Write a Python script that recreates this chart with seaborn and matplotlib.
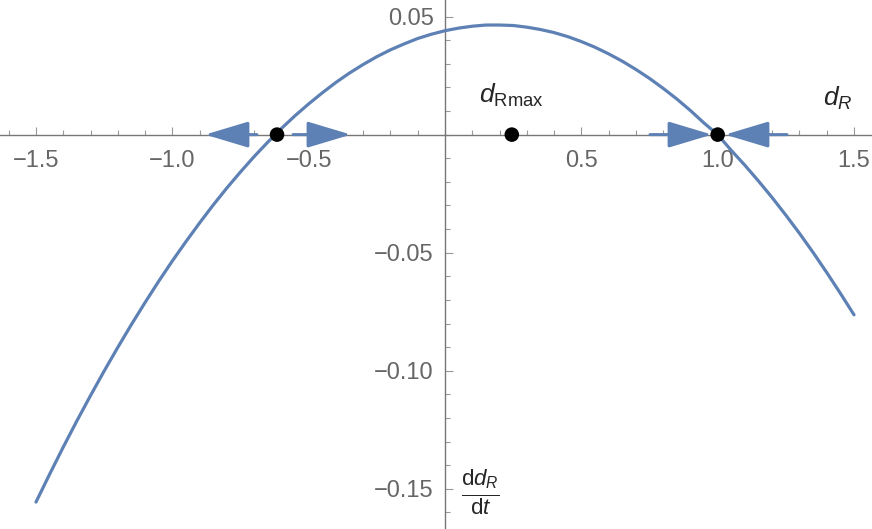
import matplotlib
matplotlib.use("Agg")
import numpy as np
import pandas as pd
import matplotlib.pyplot as plt
import seaborn as sns
from matplotlib.ticker import MultipleLocator, FixedLocator, FuncFormatter

# curve values
x_vals = [-1.5, -1.45, -1.4, -1.35, -1.3, -1.25, -1.2, -1.15, -1.1, -1.05,
          -1.0, -0.95, -0.9, -0.85, -0.8, -0.75, -0.7, -0.65, -0.6, -0.55,
          -0.5, -0.45, -0.4, -0.35, -0.3, -0.25, -0.2, -0.15, -0.1, -0.05,
          0.0, 0.05, 0.1, 0.15, 0.2, 0.25, 0.3, 0.35, 0.4, 0.45,
          0.5, 0.55, 0.6, 0.65, 0.7, 0.75, 0.8, 0.85, 0.9, 0.95,
          1.0, 1.05, 1.1, 1.15, 1.2, 1.25, 1.3, 1.35, 1.4, 1.45, 1.5]
y_vals = [-0.1556, -0.1438, -0.1323, -0.1212, -0.1105, -0.1001, -0.0901, -0.0804, -0.0711, -0.0621,
          -0.0535, -0.0453, -0.0374, -0.0298, -0.0226, -0.0158, -0.0093, -0.0032, 0.0026, 0.0080,
          0.0130, 0.0177, 0.0221, 0.0261, 0.0297, 0.0330, 0.0359, 0.0384, 0.0407, 0.0425,
          0.0440, 0.0451, 0.0459, 0.0464, 0.0464, 0.0462, 0.0455, 0.0445, 0.0432, 0.0415,
          0.0394, 0.0370, 0.0342, 0.0311, 0.0276, 0.0238, 0.0196, 0.0151, 0.0102, 0.0049,
          0.0000, -0.0067, -0.0130, -0.0197, -0.0267, -0.0341, -0.0418, -0.0499, -0.0584, -0.0672, -0.0763]

# fixed points / d_Rmax marker
pt_x = [-0.616, 0.245, 1.0]
pt_y = [0.0, 0.0, 0.0]

# flow arrows along the axis (tail -> tip)
arrow_tail = [-0.69, -0.557, 0.752, 1.254]
arrow_tip = [-0.88, -0.345, 0.979, 1.027]

x_major = [-1.5, -1.0, -0.5, 0.5, 1.0, 1.5]
y_major = [0.05, -0.05, -0.10, -0.15]

blue = "#5E81B5"
grey = "#777777"

sns.set_style("white")
plt.rcParams["font.family"] = ["Liberation Sans", "DejaVu Sans"]
plt.rcParams["mathtext.fontset"] = "custom"
plt.rcParams["mathtext.rm"] = "Liberation Sans"
plt.rcParams["mathtext.it"] = "Liberation Sans:italic"

fig = plt.figure(figsize=(8.72, 5.29), dpi=100)
ax = fig.add_axes([0, 0, 1, 1])

df = pd.DataFrame({"x": x_vals, "y": y_vals})
sns.lineplot(data=df, x="x", y="y", color=blue, linewidth=2.3, ax=ax, zorder=3)

for t, h in zip(arrow_tail, arrow_tip):
    ax.annotate("", xy=(h, 0), xytext=(t, 0),
                arrowprops=dict(arrowstyle="-|>,head_length=1.5,head_width=0.45",
                                color=blue, lw=2.2, mutation_scale=18,
                                shrinkA=0, shrinkB=0), zorder=4)

sns.scatterplot(x=pt_x, y=pt_y, color="black", s=110, edgecolor="none", ax=ax, zorder=5)

ax.set_xlim(-1.632, 1.566)
ax.set_ylim(-0.167, 0.057)

for s in ["top", "right"]:
    ax.spines[s].set_visible(False)
ax.spines["left"].set_position(("data", 0))
ax.spines["bottom"].set_position(("data", 0))
ax.spines["left"].set_color(grey)
ax.spines["bottom"].set_color(grey)
ax.spines["left"].set_linewidth(1.0)
ax.spines["bottom"].set_linewidth(1.0)

ax.xaxis.set_major_locator(FixedLocator(x_major))
ax.yaxis.set_major_locator(FixedLocator(y_major))
ax.xaxis.set_minor_locator(MultipleLocator(0.1))
ax.yaxis.set_minor_locator(MultipleLocator(0.01))
ax.xaxis.set_major_formatter(FuncFormatter(lambda v, p: f"{v:.1f}".replace("-", "\u2212")))
ax.yaxis.set_major_formatter(FuncFormatter(lambda v, p: f"{v:.2f}".replace("-", "\u2212")))
ax.tick_params(which="both", bottom=True, left=True, direction="in", color="#999999",
               labelcolor="#666666", labelsize=17)
ax.tick_params(which="major", length=6, width=0.8)
ax.tick_params(which="minor", length=3.5, width=0.8)
ax.tick_params(axis="x", pad=11)
ax.tick_params(axis="y", pad=8)
ax.set_xlabel("")
ax.set_ylabel("")

ax.text(0.245, 0.0165, r"$d_{\mathrm{Rmax}}$", fontsize=19, ha="center", va="center")
ax.text(1.44, 0.0155, r"$d_{R}$", fontsize=19, ha="center", va="center")
ax.text(0.13, -0.1515, r"$\frac{\mathrm{d}d_{R}}{\mathrm{d}t}$", fontsize=23, ha="center", va="center")

fig.savefig("out.png", dpi=100)
